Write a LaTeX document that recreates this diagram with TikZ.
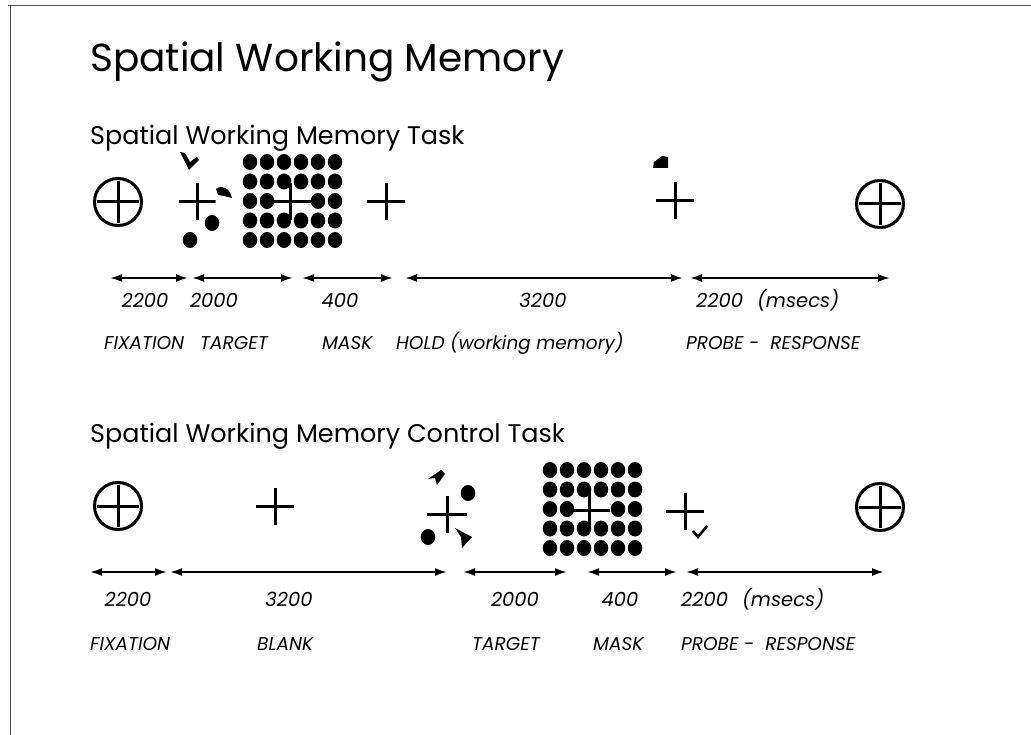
\documentclass[tikz,border=0pt]{standalone}
\usepackage{fontspec}
\setmainfont{Poppins}
\usetikzlibrary{arrows.meta,shapes.geometric}

\tikzset{
  stim/.style={line width=3pt},
  ring/.style={circle, draw, line width=3pt, minimum size=47pt, inner sep=0pt,
    path picture={\draw[stim] ([yshift=21pt]path picture bounding box.center) -- ([yshift=-21pt]path picture bounding box.center)
      ([xshift=-21pt]path picture bounding box.center) -- ([xshift=21pt]path picture bounding box.center);}},
  fixcross/.style={inner sep=0pt, minimum width=38pt, minimum height=37pt,
    path picture={\draw[stim] (path picture bounding box.north) -- (path picture bounding box.south)
      (path picture bounding box.west) -- (path picture bounding box.east);}},
  dot/.style={ellipse, fill, inner sep=0pt, minimum width=14.5pt, minimum height=16pt},
  span/.style={{Latex[length=12pt,width=8pt]}-{Latex[length=12pt,width=8pt]}, line width=2pt},
  num/.style={font=\fontsize{19.5}{22}\selectfont\itshape, anchor=base, inner sep=0pt},
  phase/.style={font=\fontsize{18.5}{22}\selectfont\itshape, anchor=base west, inner sep=0pt},
  head/.style={font=\fontsize{25.5}{30}\selectfont, anchor=base west, inner sep=0pt},
}

\begin{document}
\begin{tikzpicture}[x=1pt, y=-1pt]
    \path[fill=white, use as bounding box] (0,0) rectangle (1031,735);
    % scanned frame
    \draw[line width=0.8pt, black!70] (8,5) -- (1031,5);
    \draw[line width=0.8pt, black!70] (10,5) -- (10,735);

    \node(title) at (90,72) [head, font=\fontsize{39}{46}\selectfont] {Spatial Working Memory};
    \node(task) at (90,145) [head] {Spatial Working Memory Task};
    \node(control) at (90,442) [head] {Spatial Working Memory Control Task};

    % --- task trial ---
    \node(fix1) at (118,202) [ring] {};
    \node(tgt1) at (197,202) [fixcross, minimum width=37pt] {};
    \node(tgt1_a) at (190,240) [dot] {};
    \node(tgt1_b) at (212,223) [dot] {};
    \fill (180,152) -- (185,153) -- (190,162) -- (197,157) -- (199,160) -- (189,170) -- cycle;
    \fill (216,189) .. controls (223,184) and (230,189) .. (232,198) -- (224,196) -- (218,195) -- cycle;
    \foreach \j in {0,1,3,4}
      \foreach \i in {0,...,5}
        \node(mask1-\i-\j) at ({250+17*\i},{162+19.5*\j}) [dot] {};
    \foreach \i in {0,1,4,5}
      \node(mask1-\i-2) at ({250+17*\i},201) [dot] {};
    \node(mask1) at (290,202) [fixcross, minimum width=44pt] {};
    \node(hold1) at (386,202) [fixcross] {};
    \node(probe1) at (675,201) [fixcross] {};
    \fill (653,168) -- (654,162) -- (662,156) -- (668,157) -- (668,168) -- cycle;
    \node(resp1) at (880,204) [ring] {};

    \coordinate(a0) at (110,278);
    \coordinate(a1) at (188,278);
    \coordinate(a2) at (192,278);
    \coordinate(a3) at (293,278);
    \coordinate(a4) at (302,278);
    \coordinate(a5) at (393,278);
    \coordinate(a6) at (405,278);
    \coordinate(a7) at (683,278);
    \coordinate(a8) at (690,278);
    \coordinate(a9) at (890,278);
    \draw[span] (a0) -- (a1);
    \draw[span] (a2) -- (a3);
    \draw[span] (a4) -- (a5);
    \draw[span] (a6) -- (a7);
    \draw[span] (a8) -- (a9);

    \node(d_fix1) at (145,308) [num] {2200};
    \node(d_tgt1) at (214,308) [num] {2000};
    \node(d_mask1) at (340,308) [num] {400};
    \node(d_hold1) at (543,308) [num] {3200};
    \node(d_probe1) at (696,308) [num, anchor=base west] {2200\hspace{14pt}(msecs)};

    \node(l_fix1) at (104,350) [phase] {FIXATION};
    \node(l_tgt1) at (200,350) [phase] {TARGET};
    \node(l_mask1) at (322,350) [phase] {MASK};
    \node(l_hold1) at (396,350) [phase] {HOLD (working memory)};
    \node(l_probe1) at (686,350) [phase] {PROBE - \ RESPONSE};

    % --- control trial ---
    \node(fix2) at (118,506) [ring] {};
    \node(blank2) at (275,506) [fixcross] {};
    \node(tgt2) at (447,514) [fixcross, minimum width=40pt] {};
    \node(tgt2_a) at (468,493) [dot] {};
    \node(tgt2_b) at (428,537) [dot] {};
    \fill (428,479) -- (441,470) -- (445,474) -- (437,485) -- (435,478) -- cycle;
    \fill (455,528) -- (472,537) -- (462,548) -- (461,537) -- cycle;
    \foreach \j in {0,1,3,4}
      \foreach \i in {0,...,5}
        \node(mask2-\i-\j) at ({550+17*\i},{470+19.5*\j}) [dot] {};
    \foreach \i in {0,1,4,5}
      \node(mask2-\i-2) at ({550+17*\i},509) [dot] {};
    \node(mask2) at (589,510) [fixcross, minimum width=42pt] {};
    \node(probe2) at (685,511) [fixcross] {};
    \draw[line width=2.5pt] (693,531) -- (698,537) -- (707,526);
    \node(resp2) at (880,507) [ring] {};

    \coordinate(b0) at (90,572);
    \coordinate(b1) at (167,572);
    \coordinate(b2) at (170,572);
    \coordinate(b3) at (447,572);
    \coordinate(b4) at (463,572);
    \coordinate(b5) at (567,572);
    \coordinate(b6) at (587,572);
    \coordinate(b7) at (677,572);
    \coordinate(b8) at (686,572);
    \coordinate(b9) at (884,572);
    \draw[span] (b0) -- (b1);
    \draw[span] (b2) -- (b3);
    \draw[span] (b4) -- (b5);
    \draw[span] (b6) -- (b7);
    \draw[span] (b8) -- (b9);

    \node(d_fix2) at (128,606) [num] {2200};
    \node(d_blank2) at (289,606) [num] {3200};
    \node(d_tgt2) at (515,606) [num] {2000};
    \node(d_mask2) at (620,606) [num] {400};
    \node(d_probe2) at (681,606) [num, anchor=base west] {2200\hspace{14pt}(msecs)};

    \node(l_fix2) at (90,650) [phase] {FIXATION};
    \node(l_blank2) at (257,650) [phase] {BLANK};
    \node(l_tgt2) at (472,650) [phase] {TARGET};
    \node(l_mask2) at (593,650) [phase] {MASK};
    \node(l_probe2) at (681,650) [phase] {PROBE - \ RESPONSE};
\end{tikzpicture}
\end{document}
